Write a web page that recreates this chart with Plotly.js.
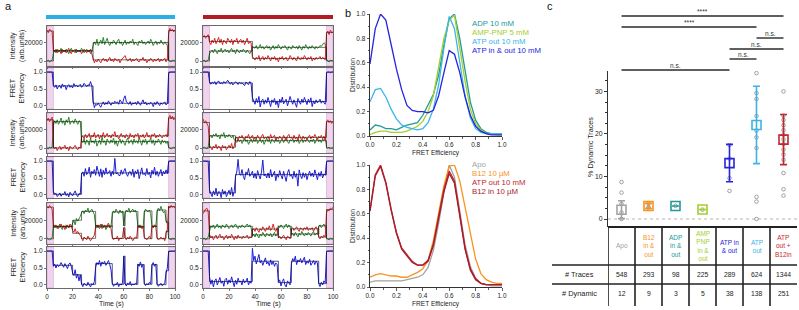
<!DOCTYPE html>
<html>
<head>
<meta charset="utf-8">
<script src="https://cdn.plot.ly/plotly-3.0.1.min.js"></script>
<style>
html, body { margin: 0; padding: 0; background: #fff; }
#chart { width: 799px; height: 310px; }
</style>
</head>
<body>
<div id="chart"></div>
<script>
// ---------- smFRET traces: donor / acceptor intensity (x1000 arb. units) and FRET, one sample per second ----------
const L1_donor = [0,1,-1,0,1,8,12,9,13,10, 11,14,9,12,10,13,11,8,12,14, 10,11,13,9,12,10,11,14,12,9, 11,13,10,12,8,11,17,21,18,24,
  17,20,23,19,26,18,22,25,20,17, 21,19,23,20,18,22,24,19,21,17, 20,23,18,21,19,22,20,24,18,21, 19,17,22,20,23,19,21,18,20,22,
  19,24,21,17,20,22,18,21,19,23, 20,18,21,19,17,1,0,-1,1,0, 0];
const L1_acceptor = [34,31,35,33,32,12,10,13,9,12, 11,8,13,10,12,9,11,14,10,8, 12,11,9,13,10,12,11,8,10,13, 11,9,12,10,13,9,3,-2,1,-1,
  2,0,-2,1,3,0,2,-1,1,4, 0,2,-1,3,1,0,2,-2,1,3, 5,6,2,0,1,3,-1,2,0,1, 3,0,-1,2,1,4,0,2,-2,1,
  0,3,1,-1,2,0,1,3,-1,2, 0,1,3,-1,2,30,36,33,35,32, 34];
const L1_fret = [1.0,1.0,0.99,1.0,1.0,0.6,0.55,0.62,0.5,0.58, 0.6,0.52,0.65,0.57,0.61,0.48,0.59,0.63,0.55,0.6,
  0.53,0.66,0.58,0.62,0.56,0.6,0.64,0.55,0.59,0.67, 0.61,0.57,0.63,0.6,0.72,0.6,0.15,-0.05,0.05,0.02,
  0.08,0.0,-0.04,0.06,0.12,0.03,0.1,0.05,0.15,0.08, 0.02,0.1,0.06,0.14,0.09,0.12,0.05,0.18,0.1,0.07,
  0.22,0.3,0.12,0.08,0.05,0.13,0.02,0.09,0.06,0.11, 0.04,0.14,0.08,0.02,0.1,0.18,0.06,0.12,0.03,0.08,
  0.05,0.11,0.07,-0.02,0.1,0.04,0.13,0.06,0.01,0.09, 0.05,0.08,0.12,0.03,0.07,0.95,1.0,1.0,0.99,1.0, 1.0];

const L2_donor = [0,-1,1,0,1,25,30,27,31,26, 29,33,27,30,25,31,28,34,26,29, 30,27,32,28,26,30,29,8,6,10, 4,9,7,3,11,6,8,5,10,2,
  7,9,4,12,6,8,3,10,7,5, 9,6,11,4,8,2,7,10,5,9, 6,3,8,11,5,7,9,4,10,6, 8,5,12,7,3,9,6,10,4,8,
  7,11,5,9,3,8,6,10,7,4, 9,6,8,5,7,1,0,-1,0,1, 0];
const L2_acceptor = [30,33,29,31,34,2,-1,1,-3,0, 2,-2,1,0,3,-1,1,-3,2,0, -1,1,3,0,-2,1,0,12,13,10, 15,11,13,16,10,14,12,17,11,13,
  15,10,14,12,17,11,13,16,12,14, 11,15,13,18,12,14,10,13,16,12, 14,11,15,13,10,16,12,14,11,15, 13,16,10,14,12,15,11,13,17,12,
  14,10,15,13,16,11,14,12,15,13, 11,14,13,15,12,33,36,32,35,31, 33];
const L2_fret = [1.0,1.0,1.0,0.99,1.0,0.1,0.02,0.05,-0.05,0.0, 0.06,-0.04,0.03,0.01,0.1,-0.02,0.04,-0.06,0.08,0.02,
  -0.03,0.05,0.12,0.01,-0.05,0.04,0.02,0.62,0.68,0.55, 0.78,0.6,0.66,0.82,0.52,0.7,0.63,0.75,0.58,0.85,
  0.68,0.55,0.77,0.52,0.73,0.6,0.8,0.62,0.65,0.72, 0.55,0.7,0.6,1.08,0.62,0.66,0.58,0.57,0.74,0.61,
  0.7,0.78,0.63,0.55,0.67,0.69,0.58,0.76,0.52,0.71, 0.62,0.75,0.48,0.66,0.8,0.6,0.64,0.57,0.78,0.6,
  0.67,0.5,0.73,0.61,0.82,0.58,0.7,0.55,0.68,0.75, 0.56,0.7,0.62,0.74,0.63,0.98,1.0,1.0,0.99,1.0, 1.0];

const L3_donor = [1,0,-1,0,1,14,12,15,11,13, 16,12,10,14,13,11,15,12,14,13, 17,20,15,22,19,21,24,28,30,27, 31,29,33,28,30,32,29,26,14,12,
  15,11,13,16,12,14,10,13,15,12, 14,26,30,28,32,29,27,31,28,30, 14,27,31,29,33,28,30,32,29,31, 27,13,15,12,14,11,28,32,30,29,
  31,27,14,12,15,13,29,33,30,35, 31,28,30,20,16,1,0,-1,1,0, 0];
const L3_acceptor = [35,33,36,34,32,13,15,12,14,11, 13,16,12,14,10,15,13,12,16,14, 9,7,11,6,8,5,4,1,-2,2, 0,-1,3,1,-2,0,2,4,13,15,
  12,14,16,11,13,15,12,14,17,13, 11,2,-1,1,0,3,-2,1,0,2, 12,1,-1,2,0,3,1,-2,0,2, 1,14,12,15,11,13,2,0,-1,1,
  3,0,14,12,15,13,1,-1,0,2, 0,1,-2,6,10,35,33,36,34,35, 33];
const L3_fret = [1.0,1.0,0.99,1.0,1.0,0.55,0.62,0.5,0.6,0.54, 0.58,0.66,0.6,0.52,0.63,0.57,0.48,0.61,0.65,0.55,
  0.35,0.28,0.45,0.2,0.32,0.12,0.3,0.02,-0.05,0.05, 0.0,-0.03,0.08,0.02,-0.06,0.04,0.0,0.1,0.52,0.66,
  0.6,0.72,0.55,0.68,0.62,0.7,0.58,0.65,0.72,0.6, 0.45,0.05,-0.04,0.02,0.0,0.08,-0.05,0.03,0.0,0.06,
  0.85,0.04,-0.03,0.06,0.01,0.1,-0.02,0.03,0.0,0.05, 0.02,0.62,0.55,0.68,0.52,0.6,0.05,-0.02,0.04,0.0,
  0.08,0.03,0.6,0.66,0.55,0.62,0.02,-0.04,0.01,0.05, -0.02,0.03,0.06,0.35,0.5,0.98,1.0,1.0,0.99,1.0, 1.0];

const R1_donor = [0,1,-1,0,1,8,10,12,9,13, 11,8,12,10,14,9,11,13,10,12, 9,11,14,10,12,8,13,11,9,12, 10,13,11,9,12,10,8,11,16,15,
  14,17,13,15,18,14,16,13,15,17, 14,16,12,15,17,13,16,14,18,15, 13,16,15,17,14,12,16,15,13,17, 15,14,16,13,17,15,12,16,14,18,
  15,13,16,14,17,15,13,16,14,15, 17,16,18,20,19,2,0,-1,1,0, 0];
const R1_acceptor = [26,28,25,27,29,21,18,23,20,25, 19,22,26,20,24,18,23,21,19,25, 22,20,24,18,23,21,25,19,22,24, 20,23,18,22,25,19,21,20,5,3,
  1,4,2,6,0,3,5,1,4,2, 6,3,0,4,2,5,1,3,-1,4, 2,5,1,3,4,0,2,6,3,1, 4,2,0,5,3,1,4,2,6,3,
  1,4,2,5,0,3,1,4,2,3, 5,2,4,3,1,30,33,29,34,31, 32];
const R1_fret = [1.0,1.0,0.99,1.0,1.0,0.72,0.64,0.7,0.66,0.72, 0.63,0.7,0.74,0.66,0.68,0.65,0.72,0.67,0.7,0.76,
  0.68,0.64,0.7,0.62,0.67,0.71,0.69,0.63,0.7,0.66, 0.68,0.64,0.6,0.7,0.66,0.63,0.72,0.65,0.25,0.15,
  0.05,0.22,0.1,0.28,-0.03,0.15,0.2,0.05,0.18,0.08, 0.25,0.12,-0.02,0.18,0.1,0.22,0.04,0.15,-0.05,0.2,
  0.1,0.26,0.06,0.14,0.2,0.0,0.12,0.28,0.15,0.05, 0.18,0.08,-0.04,0.22,0.12,0.05,0.2,0.1,0.25,0.13,
  0.04,0.2,0.1,0.24,-0.02,0.15,0.06,0.18,0.09,0.14, 0.2,0.08,0.15,0.1,0.05,0.97,1.0,1.0,0.98,1.0, 1.0];

const R2_donor = [0,1,0,-1,1,12,14,11,15,13, 16,12,14,10,15,13,17,11,14,12, 15,13,11,14,9,8,6,10,7,9, 5,8,11,7,9,4,8,10,6,9,
  7,11,5,8,10,6,9,4,8,11, 7,9,5,10,8,6,11,7,9,5, 8,10,6,9,12,7,5,9,8,10, 6,9,7,11,5,8,10,6,9,7,
  11,8,6,9,7,10,5,8,11,7, 9,6,10,8,12,1,0,1,-1,0, 0];
const R2_acceptor = [32,28,30,26,24,3,1,-2,2,0, 4,-1,2,1,-3,3,0,2,-2,1, 3,0,5,-1,2,10,12,8,13,11, 14,10,9,13,11,15,10,12,14,9,
  12,10,14,11,9,13,15,10,12,11, 13,9,15,11,12,14,8,12,10,13, 11,9,14,10,8,13,15,11,12,9, 14,10,12,8,15,11,9,13,10,12,
  9,12,14,10,13,11,15,12,9,13, 11,14,10,13,9,29,31,28,30,27, 29];
const R2_fret = [1.0,1.0,0.98,1.0,0.99,0.15,0.05,-0.05,0.12,0.0, 0.2,-0.03,0.1,0.08,-0.08,0.16,0.02,0.12,-0.05,0.06,
  0.14,0.0,0.22,-0.04,0.1,0.55,0.68,1.05,0.62,0.58, 0.75,0.55,0.45,0.68,0.6,0.78,0.55,0.62,0.7,0.5,
  0.64,0.48,0.72,0.58,0.47,0.68,1.03,0.56,0.62,0.5, 0.65,0.5,0.75,0.53,0.6,0.7,0.42,0.62,0.52,0.72,
  0.58,0.47,0.7,0.52,0.4,0.65,0.75,0.55,0.6,0.48, 0.7,0.52,0.63,0.26,0.74,0.57,0.48,0.66,0.52,0.64,
  0.45,0.6,0.7,0.55,0.65,0.53,0.74,0.6,0.45,0.66, 0.55,0.7,0.5,0.62,0.58,0.97,1.0,1.0,0.99,1.0, 1.0];

const R3_donor = [0,1,-1,0,2,10,14,12,15,11, 13,16,12,14,11,15,13,12,16,14, 11,13,15,12,14,16,13,11,14,12, 15,13,12,14,16,13,15,12,3,5,
  2,6,4,1,5,3,7,4,2,6, 5,3,6,2,4,7,3,5,14,12, 15,13,11,14,16,12,15,13,4,6, 3,7,5,2,6,4,8,5,3,6,
  4,7,5,3,6,8,4,6,5,13, 15,12,14,16,13,1,0,-1,1,0, 0];
const R3_acceptor = [27,30,32,33,29,5,1,3,-1,2, 4,0,2,5,1,3,-1,2,4,0, 3,1,5,2,-1,3,0,4,1,2, 0,3,1,2,4,0,2,1,9,11,
  8,12,10,7,11,9,13,10,8,12, 10,14,9,11,16,10,8,12,1,3, 0,2,4,1,-1,3,2,0,10,12, 9,11,13,10,8,12,11,9,12,10,
  13,9,11,10,12,8,11,13,10,2, 0,3,1,4,2,28,31,30,33,32, 34];
const R3_fret = [1.0,1.0,0.99,1.0,1.0,0.25,0.02,0.15,-0.06,0.12, 0.18,0.0,0.14,0.22,0.05,0.12,-0.04,0.16,0.2,0.02,
  0.15,0.06,0.24,0.1,-0.05,0.14,0.02,0.2,0.08,0.12, 0.0,0.17,0.06,0.1,0.2,0.0,0.1,0.05,1.08,0.72,
  0.85,0.62,0.75,0.9,0.65,0.72,0.58,0.7,0.8,0.62, 0.68,0.57,0.74,0.6,0.7,0.55,0.65,0.6,0.08,0.15,
  -0.03,0.1,0.18,0.0,-0.06,0.12,0.05,0.0,0.62,0.78, 0.7,0.85,0.6,0.74,0.68,0.78,0.65,0.72,0.82,0.6,
  0.7,0.64,0.76,0.58,0.68,0.72,0.6,0.7,0.65,0.05, -0.05,0.08,0.0,0.12,0.06,0.97,1.0,1.0,0.99,1.0, 1.0];

// ---------- fitted state sequences: change points (s) and state levels ----------
const L1_fitT = [0,5,36,95,100];
const L1_fitDonor = [0,11.3,20.3,0,0];
const L1_fitAcceptor = [33,11,1.3,33.5,33.5];
const L1_fitFret = [1,0.59,0.08,1,1];

const L2_fitT = [0,5,27,95,100];
const L2_fitDonor = [0,29,7,0,0];
const L2_fitAcceptor = [31,0,13.3,33,33];
const L2_fitFret = [1,0.02,0.65,1,1];

const L3_fitT = [0,5,20,27,38,51,60,61,71,76,82,86,93,95,100];
const L3_fitDonor = [0,13,20,29.5,13,29,14,29.5,13,30,13.5,31,18,0,0];
const L3_fitAcceptor = [34,13.5,6,0.6,14,0.4,12,0.6,13,0.2,13.5,0.2,8,34.5,34.5];
const L3_fitFret = [1,0.58,0.3,0.02,0.63,0.02,0.85,0.02,0.6,0.02,0.6,0.01,0.42,1,1];

const R1_fitT = [0,5,38,95,100];
const R1_fitDonor = [0,11,15,0,0];
const R1_fitAcceptor = [27,21.5,2.8,31.5,31.5];
const R1_fitFret = [1,0.68,0.13,1,1];

const R2_fitT = [0,5,25,95,100];
const R2_fitDonor = [0,13.5,8,0,0];
const R2_fitAcceptor = [28,0.8,11.7,29,29];
const R2_fitFret = [1,0.06,0.6,1,1];

const R3_fitT = [0,5,38,58,68,89,95,100];
const R3_fitDonor = [0,13.5,4.3,13.6,5.2,14,0,0];
const R3_fitAcceptor = [30,1.9,10.5,1.4,10.8,1.8,31.5,31.5];
const R3_fitFret = [1,0.1,0.7,0.07,0.7,0.04,1,1];

// acceptor direct-excitation windows (s)
const excitationWindows = [[0, 5], [95, 100]];

// ---------- FRET histograms ----------
const fretBins = [0,0.04,0.08,0.12,0.16,0.2,0.24,0.28,0.32,0.36,0.4,0.44,0.48,0.52,0.56,0.6,0.64,0.68,0.72,0.76,0.8,0.84,0.88,0.92,0.96,1.0];
const histADP = [0.05,0.09,0.08,0.06,0.06,0.05,0.07,0.09,0.10,0.11,0.17,0.25,0.34,0.50,0.75,0.96,1.0,0.80,0.52,0.28,0.13,0.06,0.03,0.02,0.02,0.02];
const histAMPPNP = [0.01,0.03,0.04,0.04,0.03,0.03,0.03,0.04,0.06,0.08,0.12,0.20,0.33,0.55,0.80,0.95,0.99,0.72,0.45,0.22,0.10,0.05,0.02,0.02,0.01,0.01];
const histATPout = [0.28,0.38,0.39,0.32,0.22,0.14,0.09,0.07,0.06,0.05,0.06,0.11,0.22,0.42,0.72,0.98,0.88,0.60,0.33,0.15,0.06,0.03,0.02,0.02,0.02,0.02];
const histATPinout = [0.59,0.88,1.0,0.95,0.75,0.55,0.38,0.25,0.21,0.20,0.20,0.19,0.21,0.33,0.52,0.70,0.67,0.52,0.32,0.17,0.08,0.04,0.02,0.01,0.01,0.01];
const histApo = [0.04,0.05,0.05,0.05,0.05,0.05,0.05,0.06,0.07,0.08,0.10,0.16,0.30,0.52,0.78,1.0,0.90,0.62,0.35,0.17,0.07,0.03,0.02,0.01,0.01,0.01];
const histB12 = [0.08,0.10,0.11,0.10,0.09,0.09,0.08,0.08,0.10,0.12,0.15,0.22,0.38,0.60,0.83,0.99,1.0,0.87,0.65,0.42,0.23,0.11,0.06,0.04,0.03,0.03];
const histATPoutB12 = [0.63,0.92,1.0,0.86,0.64,0.45,0.32,0.26,0.21,0.18,0.18,0.22,0.35,0.58,0.80,0.95,0.87,0.60,0.32,0.15,0.07,0.03,0.02,0.02,0.02,0.02];
const histB12in = [0.62,0.91,0.99,0.85,0.63,0.44,0.31,0.25,0.20,0.18,0.18,0.21,0.34,0.56,0.78,0.93,0.85,0.58,0.31,0.14,0.06,0.03,0.02,0.02,0.02,0.02];

const histTopNames = ['ADP 10 mM', 'AMP-PNP 5 mM', 'ATP out 10 mM', 'ATP in & out 10 mM'];
const histBottomNames = ['Apo', 'B12 10 µM', 'ATP out 10 mM', 'B12 in 10 µM'];

// ---------- dynamic-trace statistics ----------
const conditionLabels = ['Apo', 'B12<br>in &<br>out', 'ADP<br>in &<br>out', 'AMP<br>PNP<br>in &<br>out', 'ATP in<br>& out', 'ATP<br>out', 'ATP<br>out +<br>B12in'];
const nTraces = [548, 293, 98, 225, 289, 624, 1344];
const nDynamic = [12, 9, 3, 5, 38, 138, 251];
const pctSpread = [2.1, 0.6, 0, 0, 4.4, 9.1, 5.9];
const apoReplicates = [8.7, 6.2, 3.6, 1.5, 0];
const b12Replicates = [3.6, 2.8, 2.5];
const adpReplicates = [3.1];
const amppnpReplicates = [2.2];
const atpInOutReplicates = [17.4, 14.2, 9.6, 6.6];
const atpOutReplicates = [34.3, 29.6, 28.2, 24.2, 20.8, 19.2, 16.7, 5.2, 4.1, 0];
const atpB12Replicates = [30.0, 24.3, 23.3, 22.1, 20.9, 19.8, 18.7, 17.6, 16.3, 15.2, 13.9, 10.8, 7.0, 5.5];
const replicateSets = [apoReplicates, b12Replicates, adpReplicates, amppnpReplicates, atpInOutReplicates, atpOutReplicates, atpB12Replicates];
const sigFrom = [0, 0, 5, 4, 4, 0];
const sigTo = [6, 5, 6, 6, 5, 4];
const sigText = ['****', '****', 'n.s.', 'n.s.', 'n.s.', 'n.s.'];

// ---------- styling ----------
const FONT = 'Liberation Sans, Arial, Helvetica, sans-serif';
const W = 799, H = 310;
const px = v => v / W;
const py = v => 1 - v / H;
const GREEN = '#2a8a2a', RED = '#e3241f', BLUE = '#1e1ed8', FITK = 'rgba(20,20,20,0.85)', FITB = '#0b0b5a';
const cApo = '#a3a3a3', cB12 = '#f7931e', cADP = '#22999a', cAMP = '#a2cf2a', cATPio = '#2525dd', cATPout = '#3cb4ea', cATPB12 = '#c3262e', cB12in = '#a81c2a';
const conditionColors = [cApo, cB12, cADP, cAMP, cATPio, cATPout, cATPB12];

const id = n => (n === 1 ? '' : String(n));
const seconds = a => a.map((_, i) => i);
const kilo = a => a.map(v => v * 1000);

const data = [];
const layout = {
  width: W, height: H, margin: { l: 0, r: 0, t: 0, b: 0 }, autosize: false,
  paper_bgcolor: '#fff', plot_bgcolor: '#fff', showlegend: false,
  font: { family: FONT, size: 7, color: '#222' },
  shapes: [], annotations: []
};
const ann = (x, y, text, o = {}) => Object.assign({
  xref: 'paper', yref: 'paper', x: px(x), y: py(y), text, showarrow: false,
  xanchor: 'center', yanchor: 'middle', font: { family: FONT, size: 7, color: '#222' }
}, o);

// ---------- panel a ----------
const colX = [[47, 175], [203, 333]];
const rowY = [[26, 66], [68, 109], [113, 153], [157, 198], [203, 244], [247, 288]];
const traceSets = [
  { col: 0, slot: 0, don: L1_donor, acc: L1_acceptor, fret: L1_fret, ft: L1_fitT, fd: L1_fitDonor, fa: L1_fitAcceptor, fe: L1_fitFret },
  { col: 0, slot: 1, don: L2_donor, acc: L2_acceptor, fret: L2_fret, ft: L2_fitT, fd: L2_fitDonor, fa: L2_fitAcceptor, fe: L2_fitFret },
  { col: 0, slot: 2, don: L3_donor, acc: L3_acceptor, fret: L3_fret, ft: L3_fitT, fd: L3_fitDonor, fa: L3_fitAcceptor, fe: L3_fitFret },
  { col: 1, slot: 0, don: R1_donor, acc: R1_acceptor, fret: R1_fret, ft: R1_fitT, fd: R1_fitDonor, fa: R1_fitAcceptor, fe: R1_fitFret },
  { col: 1, slot: 1, don: R2_donor, acc: R2_acceptor, fret: R2_fret, ft: R2_fitT, fd: R2_fitDonor, fa: R2_fitAcceptor, fe: R2_fitFret },
  { col: 1, slot: 2, don: R3_donor, acc: R3_acceptor, fret: R3_fret, ft: R3_fitT, fd: R3_fitDonor, fa: R3_fitAcceptor, fe: R3_fitFret }
];

function traceAxes(n, col, row, isIntensity) {
  const cx = colX[col], ry = rowY[row];
  const bottom = row === 5;
  layout['xaxis' + id(n)] = {
    domain: [px(cx[0]), px(cx[1])], range: [0, 100], anchor: 'y' + id(n),
    tickvals: [0, 20, 40, 60, 80, 100], ticks: 'outside', ticklen: 2, tickwidth: 0.8, tickcolor: '#555',
    showticklabels: bottom, tickfont: { family: FONT, size: 6.4, color: '#222' },
    showline: true, mirror: true, linecolor: '#6a6a6a', linewidth: 1, showgrid: false, zeroline: false
  };
  layout['yaxis' + id(n)] = {
    domain: [py(ry[1]), py(ry[0])], anchor: 'x' + id(n),
    range: isIntensity ? [-5500, 38500] : [-0.09, 1.12],
    tickvals: isIntensity ? [0, 20000] : [0, 0.5, 1],
    ticktext: isIntensity ? ['0', '20000'] : ['0.0', '0.5', '1.0'],
    ticks: 'outside', ticklen: 2, tickwidth: 0.8, tickcolor: '#555',
    tickfont: { family: FONT, size: 6.6, color: '#222' },
    showline: true, mirror: true, linecolor: '#6a6a6a', linewidth: 1, showgrid: false, zeroline: false
  };
  excitationWindows.forEach(w => layout.shapes.push({
    type: 'rect', xref: 'x' + id(n), yref: 'y' + id(n) + ' domain', x0: w[0], x1: w[1], y0: 0, y1: 1,
    fillcolor: 'rgba(222,160,216,0.45)', line: { width: 0.6, color: 'rgba(200,120,195,0.6)' }, layer: 'below'
  }));
}

traceSets.forEach(s => {
  const rInt = s.slot * 2, rFret = s.slot * 2 + 1;
  const nInt = 1 + rInt * 2 + s.col, nFret = 1 + rFret * 2 + s.col;
  traceAxes(nInt, s.col, rInt, true);
  traceAxes(nFret, s.col, rFret, false);
  const xi = 'x' + id(nInt), yi = 'y' + id(nInt), xf = 'x' + id(nFret), yf = 'y' + id(nFret);
  data.push({ type: 'scatter', mode: 'lines', x: seconds(s.don), y: kilo(s.don), xaxis: xi, yaxis: yi, line: { color: GREEN, width: 1 } });
  data.push({ type: 'scatter', mode: 'lines', x: seconds(s.acc), y: kilo(s.acc), xaxis: xi, yaxis: yi, line: { color: RED, width: 1 } });
  data.push({ type: 'scatter', mode: 'lines', x: s.ft, y: kilo(s.fd), xaxis: xi, yaxis: yi, line: { color: FITK, width: 0.7, shape: 'hv' } });
  data.push({ type: 'scatter', mode: 'lines', x: s.ft, y: kilo(s.fa), xaxis: xi, yaxis: yi, line: { color: FITK, width: 0.7, shape: 'hv' } });
  data.push({ type: 'scatter', mode: 'lines', x: seconds(s.fret), y: s.fret, xaxis: xf, yaxis: yf, line: { color: BLUE, width: 1 } });
  data.push({ type: 'scatter', mode: 'lines', x: s.ft, y: s.fe, xaxis: xf, yaxis: yf, line: { color: FITB, width: 0.7, shape: 'hv' } });
  if (s.col === 0) {
    layout.annotations.push(ann(17, (rowY[rInt][0] + rowY[rInt][1]) / 2, 'Intensity<br>(arb.units)', { textangle: -90, font: { family: FONT, size: 7.2, color: '#222' } }));
    layout.annotations.push(ann(17, (rowY[rFret][0] + rowY[rFret][1]) / 2, 'FRET<br>Efficiency', { textangle: -90, font: { family: FONT, size: 7.2, color: '#222' } }));
  }
});

// condition bars above the two trace columns
layout.shapes.push({ type: 'rect', xref: 'paper', yref: 'paper', x0: px(46), x1: px(175), y0: py(19), y1: py(15), fillcolor: '#2eaee6', line: { width: 0 } });
layout.shapes.push({ type: 'rect', xref: 'paper', yref: 'paper', x0: px(203), x1: px(333), y0: py(19), y1: py(15), fillcolor: '#b01d25', line: { width: 0 } });
layout.annotations.push(ann(111, 304, 'Time (s)', { font: { family: FONT, size: 6.8, color: '#222' } }));
layout.annotations.push(ann(268, 304, 'Time (s)', { font: { family: FONT, size: 6.8, color: '#222' } }));

// ---------- panel b ----------
function histAxes(n, yTop, yBot) {
  layout['xaxis' + id(n)] = {
    domain: [px(370), px(502)], range: [0, 1], anchor: 'y' + id(n), dtick: 0.2, tickformat: '.1f',
    ticks: 'outside', ticklen: 2.5, tickwidth: 0.8, tickcolor: '#333',
    minor: { dtick: 0.1, ticks: 'outside', ticklen: 1.5, tickcolor: '#333' },
    tickfont: { family: FONT, size: 6.4, color: '#222' },
    showline: true, linecolor: '#333', linewidth: 1, showgrid: false, zeroline: false
  };
  layout['yaxis' + id(n)] = {
    domain: [py(yBot), py(yTop)], range: [0, 1], anchor: 'x' + id(n), dtick: 0.2, tickformat: '.1f',
    ticks: 'outside', ticklen: 2.5, tickwidth: 0.8, tickcolor: '#333',
    minor: { dtick: 0.1, ticks: 'outside', ticklen: 1.5, tickcolor: '#333' },
    tickfont: { family: FONT, size: 6.4, color: '#222' },
    showline: true, linecolor: '#333', linewidth: 1, showgrid: false, zeroline: false
  };
}
histAxes(13, 14, 136);
histAxes(14, 165, 287);
const topHists = [histADP, histAMPPNP, histATPout, histATPinout];
const topColors = [cADP, cAMP, cATPout, cATPio];
const botHists = [histApo, histB12, histATPoutB12, histB12in];
const botColors = [cApo, cB12, cATPB12, cB12in];
topHists.forEach((h, i) => data.push({ type: 'scatter', mode: 'lines', x: fretBins, y: h, xaxis: 'x13', yaxis: 'y13', line: { color: topColors[i], width: 1.3 } }));
botHists.forEach((h, i) => data.push({ type: 'scatter', mode: 'lines', x: fretBins, y: h, xaxis: 'x14', yaxis: 'y14', line: { color: botColors[i], width: 1.3 } }));
histTopNames.forEach((t, i) => layout.annotations.push(ann(470, 23 + i * 9.3, t, { xanchor: 'left', font: { family: FONT, size: 7.8, color: topColors[i] } })));
histBottomNames.forEach((t, i) => layout.annotations.push(ann(470, 164 + i * 9.3, t, { xanchor: 'left', font: { family: FONT, size: 7.8, color: botColors[i] } })));
layout.annotations.push(ann(436, 152.5, 'FRET Efficiency', { font: { family: FONT, size: 6.6, color: '#222' } }));
layout.annotations.push(ann(436, 304, 'FRET Efficiency', { font: { family: FONT, size: 6.6, color: '#222' } }));
layout.annotations.push(ann(352, 75, 'Distribution', { textangle: -90, font: { family: FONT, size: 6.8, color: '#222' } }));
layout.annotations.push(ann(352, 226, 'Distribution', { textangle: -90, font: { family: FONT, size: 6.8, color: '#222' } }));

// ---------- panel c ----------
layout.xaxis15 = { domain: [px(608), px(797)], range: [-0.5, 6.5], anchor: 'y15', visible: false, showgrid: false, zeroline: false };
layout.yaxis15 = {
  domain: [py(227), py(71)], range: [-1.88, 34.8], anchor: 'x15', tick0: 0, dtick: 10,
  ticks: 'outside', ticklen: 3, tickwidth: 1, tickcolor: '#333',
  minor: { dtick: 2.5, ticks: 'outside', ticklen: 2, tickcolor: '#333' },
  tickfont: { family: FONT, size: 6.8, color: '#222' },
  showline: true, linecolor: '#333', linewidth: 1.2, showgrid: false, zeroline: false
};
layout.shapes.push({ type: 'line', xref: 'x15 domain', yref: 'y15', x0: 0, x1: 1, y0: 0, y1: 0, line: { color: '#b5b5b5', width: 1, dash: 'dot' }, layer: 'below' });

const pctDynamic = nDynamic.map((d, i) => 100 * d / nTraces[i]);
replicateSets.forEach((reps, i) => data.push({
  type: 'scatter', mode: 'markers', x: reps.map(() => i), y: reps, xaxis: 'x15', yaxis: 'y15',
  marker: { symbol: 'circle-open', size: 3.6, color: '#8a8a8a', line: { width: 0.8, color: '#8a8a8a' } }
}));
pctDynamic.forEach((p, i) => data.push({
  type: 'scatter', mode: 'markers', x: [i], y: [p], xaxis: 'x15', yaxis: 'y15',
  error_y: { type: 'data', array: [pctSpread[i]], visible: true, color: conditionColors[i], thickness: 1.6, width: 3.5 },
  marker: { symbol: 'square-open', size: 9, color: conditionColors[i], line: { width: 1.6, color: conditionColors[i] } }
}));

// significance brackets
const sigLevels = [16, 27, 38, 49, 59, 70];
sigFrom.forEach((a, k) => {
  layout.shapes.push({ type: 'line', xref: 'x15', yref: 'paper', x0: a, x1: sigTo[k], y0: py(sigLevels[k]), y1: py(sigLevels[k]), line: { color: '#2a2a2a', width: 1.4 } });
  layout.annotations.push({ xref: 'x15', yref: 'paper', x: (a + sigTo[k]) / 2, y: py(sigLevels[k] - 4.2), text: sigText[k], showarrow: false, xanchor: 'center', yanchor: 'middle', font: { family: FONT, size: 6.6, color: '#333' } });
});

// count table below the plot
const TABLE_TOP = 227, ROW1 = 265, ROW2 = 284, TABLE_BOT = 306;
for (let b = 0; b < conditionLabels.length; b++) {
  layout.shapes.push({ type: 'line', xref: 'x15', yref: 'paper', x0: b - 0.5, x1: b - 0.5, y0: py(TABLE_TOP), y1: py(TABLE_BOT), line: { color: '#222', width: 1.6 } });
}
layout.shapes.push({ type: 'line', xref: 'x15 domain', yref: 'paper', x0: 0, x1: 1, y0: py(TABLE_TOP), y1: py(TABLE_TOP), line: { color: '#222', width: 1.8 } });
[ROW1, ROW2].forEach(yv => layout.shapes.push({ type: 'line', xref: 'paper', yref: 'paper', x0: px(552), x1: px(797), y0: py(yv), y1: py(yv), line: { color: '#222', width: 1.6 } }));
conditionLabels.forEach((t, i) => {
  layout.annotations.push({ xref: 'x15', yref: 'paper', x: i, y: py((TABLE_TOP + ROW1) / 2), text: t, showarrow: false, xanchor: 'center', yanchor: 'middle', align: 'center', font: { family: FONT, size: 6.5, color: conditionColors[i] } });
  layout.annotations.push({ xref: 'x15', yref: 'paper', x: i, y: py((ROW1 + ROW2) / 2), text: String(nTraces[i]), showarrow: false, xanchor: 'center', yanchor: 'middle', font: { family: FONT, size: 6.8, color: '#222' } });
  layout.annotations.push({ xref: 'x15', yref: 'paper', x: i, y: py(ROW2 + 9.5), text: String(nDynamic[i]), showarrow: false, xanchor: 'center', yanchor: 'middle', font: { family: FONT, size: 6.8, color: '#222' } });
});
layout.annotations.push(ann(579, (ROW1 + ROW2) / 2, '# Traces', { font: { family: FONT, size: 7.4, color: '#222' } }));
layout.annotations.push(ann(579, ROW2 + 9.5, '# Dynamic', { font: { family: FONT, size: 7.4, color: '#222' } }));
layout.annotations.push(ann(591, 147, '% Dynamic Traces', { textangle: -90, font: { family: FONT, size: 7.2, color: '#222' } }));

// panel letters
layout.annotations.push(ann(3, 6, 'a', { xanchor: 'left', font: { family: FONT, size: 11, color: '#111' } }));
layout.annotations.push(ann(343, 13, 'b', { xanchor: 'left', font: { family: FONT, size: 11, color: '#111' } }));
layout.annotations.push(ann(545, 6, 'c', { xanchor: 'left', font: { family: FONT, size: 11, color: '#111' } }));

data.forEach(t => { t.hoverinfo = 'skip'; });
Plotly.newPlot('chart', data, layout, { staticPlot: true, displayModeBar: false });
</script>
</body>
</html>
